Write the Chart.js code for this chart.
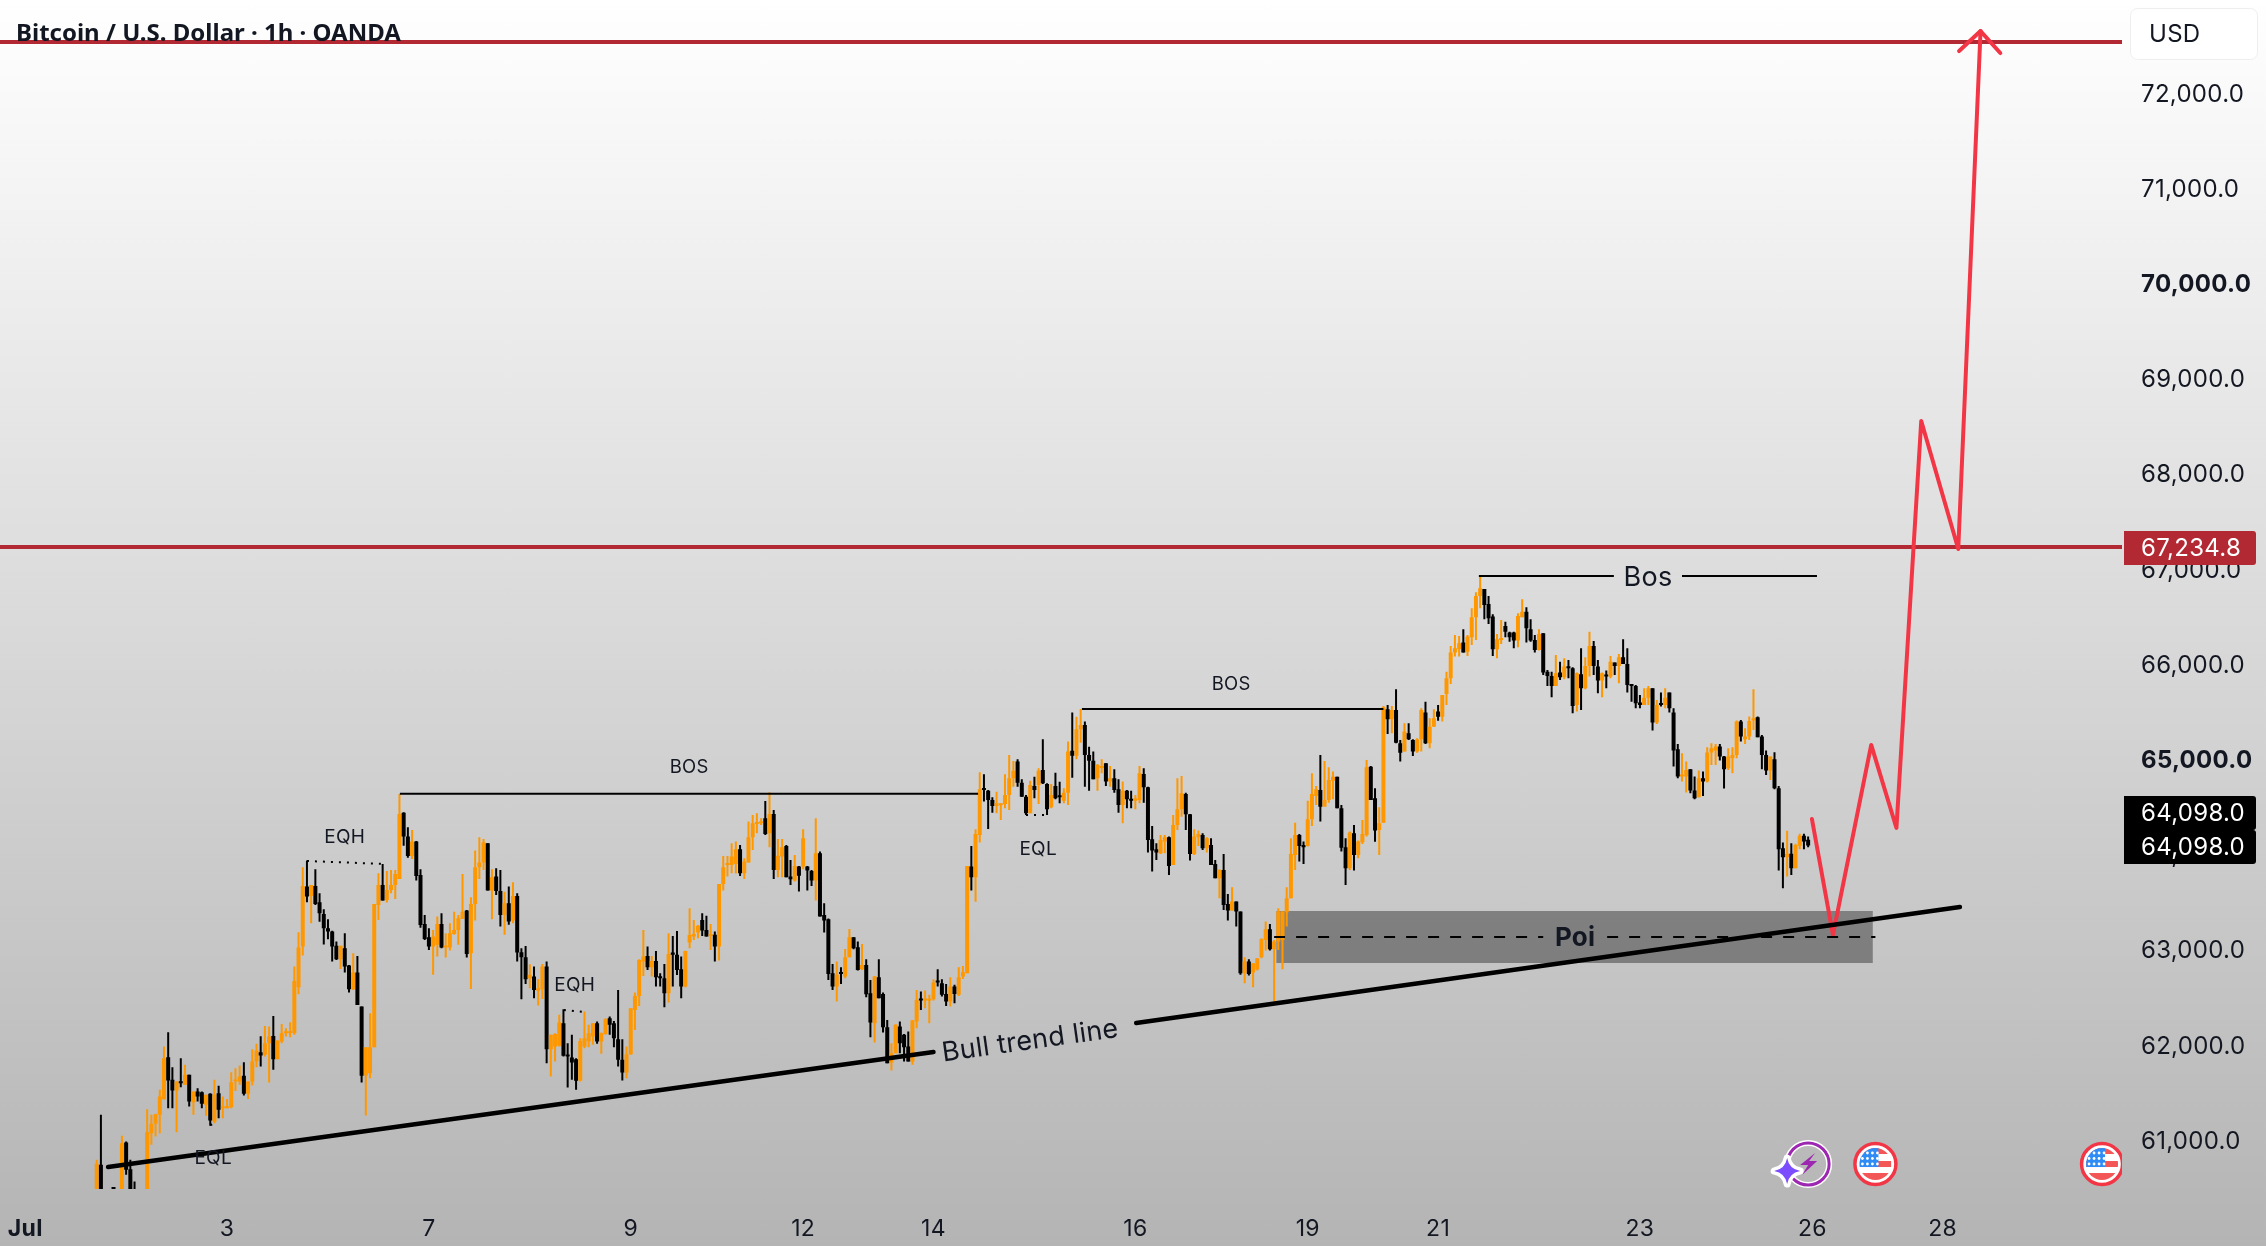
<!DOCTYPE html>
<html>
<head>
<meta charset="utf-8">
<title>BTCUSD 1h</title>
<script src="https://cdn.jsdelivr.net/npm/chart.js@4"></script>
<style>
    html, body { margin: 0; padding: 0; overflow: hidden; }
    body { width: 2266px; height: 1246px; background: linear-gradient(#ffffff, #b4b4b4); }
    canvas { display: block; }
</style>
</head>
<body>
<canvas id="price" width="2266" height="1246"></canvas>
<script>
// candles are [open, high, low, close], one array per stretch of the month
var julStart = [
    [60300,60797,60200,60755],[60745,61270,60100,60300],[60300,60450,60100,60250],[60250,60420,60100,60300],
    [60300,60450,60150,60280],[60280,60440,60150,60350],[60350,61050,60200,60970],[60979,60990,60640,60692],
    [60699,60797,60200,60300],[60400,60570,60200,60350],[60350,60450,60200,60300],[60300,60450,60200,60400],
    [60400,61329,60300,61087],[61077,61270,60955,61175],[61175,61280,61042,61277],[61270,61532,61077,61462],
    [61434,61987,61430,61865],[61875,62137,61340,61630],[61637,61770,61340,61525],[61525,61620,61087,61620],
    [61620,61865,61560,61602],[61585,61795,61585,61690],[61690,61690,61357,61410],[61402,61515,61270,61515],
    [61515,61550,61410,61462],[61507,61515,61340,61385],[61375,61480,61260,61480],[61490,61497,61154,61210],
    [61200,61637,61182,61480],[61497,61574,61235,61322],[61340,61462,61235,61357],[61340,61437,61340,61357],
    [61350,61717,61340,61612],[61620,61760,61520,61637],[61620,61787,61585,61672],[61679,61822,61472,61490],
    [61490,61620,61437,61620],[61620,61959,61577,61830],[61830,62015,61770,61945],[61927,62095,61777,61892],
    [61900,62204,61882,62022],[62022,62197,61609,62092],[62099,62309,61742,61854],[61854,62050,61854,62050],
    [62040,62225,62022,62127],[62127,62180,62092,62145],[62127,62243,62085,62145],[62130,62827,62110,62676]
];
var julFirstPush = [
    [62610,63187,62536,63027],[63037,63870,62942,63674],[63667,63940,63502,63562],[63569,63684,63282,63684],
    [63674,63849,63474,63485],[63502,63597,63299,63387],[63380,63429,63058,63230],[63230,63324,63114,63195],
    [63195,63202,62880,63037],[63047,63090,62897,62904],[62904,63047,62802,63047],[63020,63177,62764,62827],
    [62837,62844,62554,62589],[62589,62967,62582,62764],[62764,62939,62424,62424],[62407,62407,61609,61679],
    [61682,61980,61262,61980],[61707,62337,61655,61980],[61980,63485,61980,63485],[63474,63807,63317,63684],
    [63684,63905,63520,63520],[63527,63832,63499,63632],[63632,63842,63597,63684],[63684,63842,63537,63800],
    [63747,64640,63747,64430],[64444,64447,64097,64192],[64192,64290,63971,63989],[63989,64262,63957,64140],
    [64140,64147,63730,63779],[63789,63849,63236,63264],[63275,63369,63107,63117],[63135,63229,63002,63037],
    [63037,63212,62740,63142],[63055,63352,62932,63275],[63275,63387,63020,63027],[63027,63177,62922,63047],
    [63027,63282,62995,63177],[63170,63404,63160,63212],[63212,63369,63055,63334],[63327,63800,63327,63404],
    [63415,63422,62922,62960],[62967,63555,62592,63485],[63485,64045,63310,63870],[63870,64185,63747,63919],
    [63919,64167,63842,64132],[64122,64122,63625,63625],[63625,63849,63324,63765],[63772,63860,63580,63622]
];
var julSecondLeg = [
    [63622,63842,63247,63370],[63370,63614,63160,63492],[63492,63667,63265,63300],[63310,63712,63282,63569],
    [63569,63597,62880,62974],[62977,63019,62484,62925],[62925,63044,62645,62694],[62705,62851,62600,62740],
    [62722,62827,62494,62582],[62572,62694,62417,62600],[62589,62855,62487,62827],[62827,62879,61812,61959],
    [61959,62110,61672,62110],[61987,62127,61830,62120],[61994,62320,61987,62239],[62232,62379,61882,61889],
    [61900,62022,61556,61882],[61871,62110,61637,61819],[61854,61864,61532,61627],[61630,62074,61620,62046],
    [61987,62354,61970,62074],[62040,62215,61980,62127],[62092,62232,62005,62232],[62232,62250,62015,62040],
    [62040,62134,61910,62127],[62120,62284,62110,62274],[62285,62302,62110,62215],[62232,62256,61980,62074],
    [62064,62582,61777,61847],[61847,62064,61630,61714],[61714,61987,61654,61906],[61906,62390,61900,62390],
    [62372,62554,62162,62519],[62519,62904,62414,62897],[62880,63212,62729,62932],[62939,63037,62792,62820],
    [62820,62939,62722,62886],[62886,62991,62617,62715],[62722,62757,62617,62705],[62705,62855,62400,62547],
    [62547,63177,62449,62960],[62974,63149,62617,62950],[62950,63201,62739,62792],[62799,62932,62494,62617],
    [62617,62992,62610,62991],[63079,63440,63019,63159],[63142,63317,63107,63170],[63184,63264,63124,63257],
    [63317,63387,63149,63205],[63212,63362,63142,63142],[63149,63275,63002,63170],[63160,63195,62880,63037]
];
var julThirdLeg = [
    [63037,63695,62890,63695],[63695,63989,63625,63870],[63895,63989,63772,63912],[63895,64122,63807,63982],
    [63905,64140,63805,64059],[64059,64104,63779,63807],[63807,63965,63747,63930],[63919,64350,63919,64185],
    [64185,64419,64052,64332],[64325,64437,64227,64339],[64332,64384,64315,64350],[64384,64566,64210,64220],
    [64227,64657,64080,64430],[64430,64472,63747,63842],[63842,64167,63765,63992],[63982,64167,63765,64080],
    [64094,64104,63765,63765],[63772,63947,63685,63744],[63730,64000,63720,63884],[63877,63884,63615,63782],
    [63877,64269,63849,64174],[63877,63884,63625,63835],[63832,63842,63674,63730],[63730,64384,63520,64017],
    [64017,64035,63352,63352],[63370,63492,63184,63310],[63324,63331,62687,62750],[62757,62855,62582,62617],
    [62617,62880,62460,62740],[62764,62820,62645,62750],[62722,63012,62705,62925],[62925,63222,62925,63135],
    [63135,63135,63009,63019],[63030,63090,62785,62792],[62799,63065,62792,62844],[62844,62904,62505,62536],
    [62547,62687,62085,62239],[62232,62729,62029,62722],[62715,62904,62494,62494],[62540,62554,62134,62190],
    [62190,62267,61812,61812],[61819,62022,61735,61917],[61917,62222,61917,62215],[62197,62250,61917,62022],
    [62110,62120,61830,61980],[61987,62144,61830,61830],[61830,62267,61795,62260],[62250,62582,62180,62477],
    [62484,62565,62372,62470],[62470,62575,62390,62484],[62467,62530,62232,62484],[62484,62694,62470,62659],
    [62680,62799,62617,62659],[62652,62694,62512,62530],[62540,62645,62414,62460],[62460,62715,62407,62617],
    [62617,62635,62442,62540],[62530,62820,62519,62715],[62722,62834,62697,62767],[62757,63884,62757,63884],
    [63877,64094,63625,63765],[63765,64269,63509,64220]
];
var julFourthLeg = [
    [64209,64867,64129,64689],[64700,64847,64560,64682],[64675,64682,64272,64577],[64577,64605,64444,64514],
    [64514,64664,64437,64542],[64521,64542,64367,64542],[64535,64847,64490,64630],[64630,65050,64472,64805],
    [64805,64986,64717,64885],[64980,65004,64717,64759],[64759,64794,64612,64612],[64612,64630,64419,64437],
    [64437,64780,64437,64735],[64724,64822,64595,64682],[64735,64909,64535,64885],[64892,65214,64745,64752],
    [64745,64752,64419,64479],[64500,64745,64490,64630],[64724,64864,64585,64595],[64619,64769,64542,64605],
    [64570,64700,64542,64654],[64654,65190,64525,65085],[65095,65497,64811,65042],[65042,65452,65004,65319],
    [65319,65532,65179,65365],[65365,65400,64717,65050],[65050,65137,64675,64990],[64990,65085,64794,64794],
    [64805,64955,64675,64945],[64913,65004,64857,64934],[64962,64962,64724,64770],[64770,64934,64717,64805],
    [64805,64899,64654,64682],[64689,64794,64444,64525],[64525,64770,64332,64675],[64675,64682,64490,64584],
    [64584,64675,64490,64570],[64570,64630,64479,64595],[64577,64934,64542,64857],[64850,64909,64549,64710],
    [64710,64717,64024,64157],[64164,64304,63825,64045],[64059,64122,63947,64024],[64017,64209,64010,64157],
    [64140,64209,64017,64185],[64185,64192,63790,63884],[63895,64419,63895,64315],[64315,64804,64262,64479],
    [64479,64829,64402,64647],[64640,64654,64262,64427],[64427,64430,63940,64010],[64010,64269,63999,64192],
    [64185,64255,64094,64220],[64209,64227,64052,64070],[64070,64185,64024,64174],[64104,64174,63895,63895],
    [63905,63947,63755,63755],[63755,63849,63545,63842],[63842,64010,63422,63475],[63485,63590,63310,63415],
    [63415,63660,63415,63510],[63510,63510,63247,63405],[63405,63405,62740,62757],[62757,62925,62652,62880],
    [62880,62904,62733,62750],[62764,62862,62610,62862],[62799,62915,62785,62915],[62925,63125,62915,63114]
];
var julRebound = [
    [63107,63300,62995,63219],[63219,63275,62995,63009],[63009,63107,62460,63090],[63090,63440,63002,63405],
    [63107,63405,62799,63405],[63397,63660,63247,63545],[63545,64175,63545,64010],[63999,64339,63842,64209],
    [64209,64220,63930,64094],[64104,64140,63905,64080],[64094,64570,64087,64374],[64374,64857,64304,64640],
    [64619,64724,64525,64689],[64682,65050,64350,64507],[64507,64986,64514,64577],[64577,64920,64549,64787],
    [64780,64875,64584,64822],[64822,64822,64490,64490],[64490,64525,64035,64076],[64080,64175,63685,63860],
    [63860,64245,63842,64234],[64227,64315,63835,63999],[63999,64150,63965,64140],[64132,64367,64115,64220],
    [64209,64997,64192,64920],[64927,64934,64577,64577],[64595,64700,64139,64255],[64262,64500,63999,64332],
    [64339,65564,64339,65550],[65529,65575,65270,65424],[65424,65564,65277,65522],[65522,65739,65172,65179],
    [65172,65207,64980,65074],[65085,65382,65085,65295],[65277,65382,65207,65214],[65207,65214,65039,65085],
    [65085,65225,65074,65214],[65214,65540,65085,65522],[65497,65610,65165,65172],[65172,65435,65120,65347],
    [65347,65529,65347,65435],[65505,65575,65410,65452]
];
var julTop = [
    [65452,65680,65400,65680],[65691,65925,65575,65855],[65855,66195,65796,66125],[66125,66310,66083,66170],
    [66160,66300,66083,66223],[66230,66370,66125,66125],[66135,66310,66090,66293],[66286,66590,66205,66496],
    [66496,66759,66258,66720],[66720,66923,66590,66800],[66793,66793,66475,66625],[66636,66720,66426,66485],
    [66503,66527,66090,66160],[66160,66321,66065,66265],[66258,66468,66216,66275],[66405,66450,66286,66345],
    [66335,66345,66240,66286],[66335,66345,66170,66251],[66251,66538,66181,66510],[66496,66685,66496,66555],
    [66555,66601,66230,66380],[66370,66475,66240,66251],[66258,66310,66125,66153],[66153,66370,66146,66321],
    [66328,66328,65890,65915],[65925,65943,65775,65880],[65880,65925,65656,65775],[65775,66100,65775,65908],
    [65915,66030,65838,65866],[65866,66065,65845,65978],[65978,66048,65855,65960],[65960,65971,65488,65565],
    [65575,65915,65505,65908],[65897,66170,65523,65750],[65750,66076,65740,65985],[65985,66345,65873,66195],
    [66195,66247,65890,65985],[65978,66048,65698,65831],[65831,65915,65656,65908],[65890,65936,65750,65873],
    [65873,66090,65855,66030],[66020,66020,65890,65985],[65985,66111,65803,66076],[66076,66265,66006,66006]
];
var julLast = [
    [66006,66170,65705,65785],[65785,65796,65610,65775],[65775,65785,65540,65593],[65600,65680,65540,65575],
    [65575,65750,65575,65652],[65652,65775,65575,65750],[65750,65750,65306,65390],[65390,65628,65376,65575],
    [65593,65705,65558,65575],[65575,65750,65540,65652],[65705,65705,65495,65540],[65495,65540,64928,65096],
    [65110,65166,64805,64823],[64823,65068,64770,64840],[64823,64980,64655,64893],[64900,64900,64648,64676],
    [64676,64823,64585,64595],[64606,64886,64606,64805],[64805,64875,64620,64770],[64770,65131,64760,65075],
    [65075,65173,64945,65120],[65096,65166,64945,65138],[65138,65166,64991,65033],[65033,65040,64697,64900],
    [64910,65120,64893,65033],[65015,65131,64858,65050],[65050,65411,65015,65400],[65400,65418,65190,65243],
    [65215,65330,65166,65243],[65243,65453,65208,65407],[65411,65740,65313,65435],[65446,65453,65236,65236],
    [65243,65260,64900,65050],[65050,65096,64840,64886],[64886,65033,64788,65033],[65005,65078,64690,64700],
    [64700,64725,63836,64060],[64070,64130,63650,63976],[63976,64253,63773,64011],[64011,64123,63790,63860],
    [63860,64116,63860,64105],[64095,64221,64060,64200],[64200,64221,64060,64140],[64158,64193,64081,64098]
];

var dayPositions = [-17, 31, 79, 127, 168, 199, 247, 288, 319, 367, 408, 439];
var dayLabels = ['Jul', '3', '7', '9', '12', '14', '16', '19', '21', '23', '26', '28'];
var priceTicks = [61000, 62000, 63000, 64000, 65000, 66000, 67000, 68000, 69000, 70000, 71000, 72000];

var targetLevel = 72539;
var resistanceLevel = 67234.8;
var lastPrice = 64098;
var poiTop = 63411;
var poiBottom = 62865;
var poiMid = 63138;

// drawn trend line, projected path and structure lines, as {x: bar, y: price}
var trendLeft = [{x: 2.7, y: 60722}, {x: 199, y: 61929}];
var trendRight = [{x: 247.2, y: 62235}, {x: 443.1, y: 63453}];
var projection = [{x: 407.9, y: 64377}, {x: 412.9, y: 63159}, {x: 422, y: 65155}, {x: 428, y: 64283},
    {x: 433.9, y: 68558}, {x: 442.7, y: 67213}, {x: 448, y: 72654}];
var arrowHead = [{x: 442.9, y: 72444}, {x: 448, y: 72654}, {x: 452.7, y: 72423}];
var bosFirst = [{x: 72.1, y: 64643}, {x: 209.6, y: 64643}];
var bosSecond = [{x: 234.3, y: 65533}, {x: 306, y: 65533}];
var bosThirdA = [{x: 328.7, y: 66930}, {x: 360.8, y: 66930}];
var bosThirdB = [{x: 377, y: 66930}, {x: 409.1, y: 66930}];
var eqhFirst = [{x: 50, y: 63936}, {x: 68.1, y: 63905}];
var eqhSecond = [{x: 111.1, y: 62371}, {x: 116.1, y: 62350}];
var eqlFirst = [{x: 27, y: 61163}, {x: 28.6, y: 61180}];
var eqlSecond = [{x: 221, y: 64419}, {x: 226, y: 64419}];
var poiDashA = [{x: 280, y: poiMid}, {x: 344, y: poiMid}];
var poiDashB = [{x: 359.2, y: poiMid}, {x: 423, y: poiMid}];
var poiEdge = [{x: 280.5, y: poiTop}, {x: 422.4, y: poiTop}];

var candles = [].concat(julStart, julFirstPush, julSecondLeg, julThirdLeg, julFourthLeg, julRebound, julTop, julLast);

var ORANGE = '#ff9800';
var RED_LINE = '#b22833';
var RED_PATH = '#f23645';
var INK = '#131722';

function candleColor(c) {
    return c[3] >= c[0] ? ORANGE : '#000000';
}

function lineSet(data, color, width, extra) {
    return Object.assign({
        type: 'line', data: data, borderColor: color, borderWidth: width, pointRadius: 0,
        tension: 0, fill: false, borderCapStyle: 'round', borderJoinStyle: 'round', order: 2
    }, extra || {});
}

var dotted = {borderDash: [2, 6], borderCapStyle: 'butt'};
var dashed = {borderDash: [11, 11], borderCapStyle: 'butt'};
// the level lines run right up to the left edge of the canvas
var levelLine = {order: 8, borderCapStyle: 'butt', clip: {left: 8, top: 0, right: 0, bottom: 0}};

var datasets = [
    {
        type: 'bar', label: 'bodies', grouped: false, order: 5, inflateAmount: 0, minBarLength: 2,
        barPercentage: 1, categoryPercentage: 1, maxBarThickness: 4,
        data: candles.map(function (c, i) { return {x: i, y: [c[0], c[3]]}; }),
        backgroundColor: candles.map(candleColor)
    },
    {
        type: 'bar', label: 'wicks', grouped: false, order: 6, inflateAmount: 0,
        barPercentage: 1, categoryPercentage: 1, maxBarThickness: 2,
        data: candles.map(function (c, i) { return {x: i, y: [c[2], c[1]]}; }),
        backgroundColor: candles.map(candleColor)
    },
    lineSet(poiEdge, 'rgba(0,0,0,0)', 0, {fill: {value: poiBottom}, backgroundColor: 'rgba(0,0,0,0.36)', order: 9}),
    lineSet([{x: -100, y: targetLevel}, {x: 600, y: targetLevel}], RED_LINE, 4, levelLine),
    lineSet([{x: -100, y: resistanceLevel}, {x: 600, y: resistanceLevel}], RED_LINE, 4, levelLine),
    lineSet(projection, RED_PATH, 4, {order: 3}),
    lineSet(arrowHead, RED_PATH, 4, {order: 3}),
    lineSet(trendLeft, '#000000', 4.5, {order: 1}),
    lineSet(trendRight, '#000000', 4.5, {order: 1}),
    lineSet(bosFirst, '#000000', 2, {borderCapStyle: 'butt'}),
    lineSet(bosSecond, '#000000', 2, {borderCapStyle: 'butt'}),
    lineSet(bosThirdA, '#000000', 2, {borderCapStyle: 'butt'}),
    lineSet(bosThirdB, '#000000', 2, {borderCapStyle: 'butt'}),
    lineSet(eqhFirst, '#000000', 2, dotted),
    lineSet(eqhSecond, '#000000', 2, dotted),
    lineSet(eqlFirst, '#000000', 2, dotted),
    lineSet(eqlSecond, '#000000', 2, dotted),
    lineSet(poiDashA, '#000000', 2, dashed),
    lineSet(poiDashB, '#000000', 2, dashed)
];

// text notes placed in bar / price coordinates
var notes = [
    {text: 'BOS', x: 140.9, y: 64923, font: '18.5px Inter'},
    {text: 'BOS', x: 269.8, y: 65795, font: '18.5px Inter'},
    {text: 'Bos', x: 368.9, y: 66909, font: '27px Inter'},
    {text: 'EQH', x: 59, y: 64188, font: '19px Inter'},
    {text: 'EQH', x: 113.7, y: 62634, font: '19px Inter'},
    {text: 'EQL', x: 27.7, y: 60817, font: '19px Inter'},
    {text: 'EQL', x: 223.9, y: 64062, font: '19px Inter'},
    {text: 'Poi', x: 351.6, y: 63127, font: 'bold 26px Inter'},
    {text: 'Bull trend line', x: 222, y: 62045, font: '27px Inter', angle: -8}
];

function drawFlag(ctx, cx, cy) {
    ctx.save();
    ctx.beginPath();
    ctx.arc(cx, cy, 20.5, 0, Math.PI * 2);
    ctx.fillStyle = '#ffffff';
    ctx.fill();
    ctx.lineWidth = 3.5;
    ctx.strokeStyle = RED_PATH;
    ctx.stroke();
    ctx.beginPath();
    ctx.arc(cx, cy, 16, 0, Math.PI * 2);
    ctx.clip();
    ctx.fillStyle = '#f35656';
    ctx.fillRect(cx - 16, cy - 16, 32, 6);
    ctx.fillRect(cx - 16, cy - 3, 32, 6);
    ctx.fillRect(cx - 16, cy + 9, 32, 8);
    ctx.fillStyle = '#2f8cf5';
    ctx.fillRect(cx - 16, cy - 16, 19, 19);
    ctx.fillStyle = '#ffffff';
    for (var r = 0; r < 3; r++) {
        for (var c = 0; c < 4; c++) {
            ctx.beginPath();
            ctx.arc(cx - 13 + c * 5, cy - 11 + r * 5.5, 1.4, 0, Math.PI * 2);
            ctx.fill();
        }
    }
    ctx.restore();
}

function drawBolt(ctx, cx, cy) {
    ctx.save();
    ctx.beginPath();
    ctx.arc(cx, cy, 21, 0, Math.PI * 2);
    ctx.lineWidth = 6;
    ctx.strokeStyle = '#ffffff';
    ctx.stroke();
    ctx.lineWidth = 3;
    ctx.strokeStyle = '#9c27b0';
    ctx.stroke();
    ctx.fillStyle = '#9c27b0';
    ctx.beginPath();
    ctx.moveTo(cx + 7, cy - 11);
    ctx.lineTo(cx - 8, cy + 1);
    ctx.lineTo(cx, cy + 1);
    ctx.lineTo(cx - 6, cy + 11);
    ctx.lineTo(cx + 9, cy - 3);
    ctx.lineTo(cx + 1, cy - 3);
    ctx.closePath();
    ctx.fill();
    // sparkle overlapping the ring
    var sx = cx - 21, sy = cy + 7;
    ctx.beginPath();
    ctx.moveTo(sx, sy - 13);
    ctx.quadraticCurveTo(sx + 2, sy - 2, sx + 13, sy);
    ctx.quadraticCurveTo(sx + 2, sy + 2, sx, sy + 13);
    ctx.quadraticCurveTo(sx - 2, sy + 2, sx - 13, sy);
    ctx.quadraticCurveTo(sx - 2, sy - 2, sx, sy - 13);
    ctx.closePath();
    ctx.lineWidth = 7;
    ctx.lineJoin = 'round';
    ctx.strokeStyle = '#ffffff';
    ctx.stroke();
    ctx.fillStyle = '#7c4dff';
    ctx.fill();
    ctx.restore();
}

function priceTag(ctx, top, height, text, fill) {
    ctx.fillStyle = fill;
    ctx.beginPath();
    ctx.roundRect(2124, top, 132, height, [0, 3, 3, 0]);
    ctx.fill();
    ctx.fillStyle = '#ffffff';
    ctx.font = '24px Inter';
    ctx.textAlign = 'left';
    ctx.textBaseline = 'middle';
    ctx.fillText(text, 2141, top + height / 2 + 1);
}

var overlays = {
    id: 'overlays',
    beforeDraw: function (chart) {
        // axis text runs a little wider than the font's default spacing
        chart.ctx.letterSpacing = '0.3px';
    },
    afterDatasetsDraw: function (chart) {
        var ctx = chart.ctx, x = chart.scales.x, y = chart.scales.y, a = chart.chartArea;
        ctx.save();
        ctx.fillStyle = INK;
        ctx.textAlign = 'center';
        ctx.textBaseline = 'middle';
        notes.forEach(function (n) {
            ctx.save();
            ctx.translate(x.getPixelForValue(n.x), y.getPixelForValue(n.y));
            if (n.angle) ctx.rotate(n.angle * Math.PI / 180);
            ctx.font = n.font;
            ctx.fillText(n.text, 0, 0);
            ctx.restore();
        });
        ctx.restore();

        // event markers sit on the bottom of the pane
        ctx.save();
        ctx.beginPath();
        ctx.rect(a.left, a.top, a.right - a.left, a.bottom - a.top);
        ctx.clip();
        var markerY = y.getPixelForValue(60753);
        drawBolt(ctx, x.getPixelForValue(407), markerY);
        drawFlag(ctx, x.getPixelForValue(423), markerY);
        drawFlag(ctx, x.getPixelForValue(476.9), markerY);
        ctx.restore();
    },
    afterDraw: function (chart) {
        var ctx = chart.ctx, y = chart.scales.y;
        ctx.save();
        ctx.fillStyle = INK;
        ctx.font = 'bold 24px "Noto Sans"';
        ctx.letterSpacing = '0px';
        ctx.textAlign = 'left';
        ctx.textBaseline = 'alphabetic';
        ctx.fillText('Bitcoin / U.S. Dollar \u00b7 1h \u00b7 OANDA', 16, 41);
        ctx.letterSpacing = '0.3px';

        // currency button
        ctx.fillStyle = '#ffffff';
        ctx.strokeStyle = '#eeeeee';
        ctx.lineWidth = 1;
        ctx.beginPath();
        ctx.roundRect(2130.5, 8.5, 127, 51, 7);
        ctx.fill();
        ctx.stroke();
        ctx.fillStyle = INK;
        ctx.font = '24px Inter';
        ctx.textBaseline = 'middle';
        ctx.fillText('USD', 2149, 35);

        var fmt = function (v) {
            return v.toLocaleString('en-US', {minimumFractionDigits: 1, maximumFractionDigits: 1});
        };
        var h = 34;
        var lastTop = Math.round(y.getPixelForValue(lastPrice) - 16);
        priceTag(ctx, Math.round(y.getPixelForValue(resistanceLevel) - 16), h, fmt(resistanceLevel), RED_LINE);
        priceTag(ctx, lastTop - h, h, fmt(lastPrice), '#000000');
        priceTag(ctx, lastTop, h, fmt(lastPrice), '#000000');
        ctx.restore();
    }
};

var myChart = new Chart(document.getElementById('price').getContext('2d'), {
    data: {datasets: datasets},
    plugins: [overlays],
    options: {
        responsive: false,
        animation: false,
        parsing: {xAxisKey: 'x', yAxisKey: 'y'},
        layout: {padding: 0},
        plugins: {legend: {display: false}, tooltip: {enabled: false}},
        scales: {
            x: {
                type: 'linear',
                offset: false,
                min: -23,
                max: 481,
                grid: {display: false, offset: false},
                border: {display: false},
                afterBuildTicks: function (scale) {
                    scale.ticks = dayPositions.map(function (v) { return {value: v}; });
                },
                afterFit: function (scale) {
                    scale.height = 57;
                    scale.paddingLeft = 0;
                    scale.paddingRight = 0;
                },
                ticks: {
                    autoSkip: false,
                    maxRotation: 0,
                    padding: 18,
                    color: INK,
                    font: function (ctx) {
                        return {family: 'Inter', size: 23, weight: ctx.tick && ctx.tick.value === dayPositions[0] ? 'bold' : 'normal'};
                    },
                    callback: function (v) { return dayLabels[dayPositions.indexOf(v)]; }
                }
            },
            y: {
                type: 'linear',
                position: 'right',
                min: 60490,
                max: 72980,
                grid: {display: false, drawTicks: false},
                border: {display: false},
                afterBuildTicks: function (scale) {
                    scale.ticks = priceTicks.map(function (v) { return {value: v}; });
                },
                afterFit: function (scale) {
                    scale.width = 144;
                    scale.paddingTop = 0;
                    scale.paddingBottom = 0;
                },
                ticks: {
                    autoSkip: false,
                    padding: 19,
                    labelOffset: 1,
                    crossAlign: 'near',
                    color: INK,
                    font: function (ctx) {
                        return {family: 'Inter', size: 24, weight: ctx.tick && ctx.tick.value % 5000 === 0 ? 'bold' : 'normal'};
                    },
                    callback: function (v) {
                        return v.toLocaleString('en-US', {minimumFractionDigits: 1, maximumFractionDigits: 1});
                    }
                }
            }
        }
    }
});

// pin both scales to the chart area once its size is known:
// 72,000 sits at y 93.3 with 95.2px per 1,000, bar 0 at x 96.7 with 4.205px per bar
function priceAt(py) { return 72000 - (py - 93.3) / 0.0952; }
function barAt(px) { return (px - 96.7) / 4.205; }
// the area can move a little after each layout, so settle it over a few passes
for (var pass = 0; pass < 3; pass++) {
    var area = myChart.chartArea;
    myChart.options.scales.y.min = priceAt(area.bottom);
    myChart.options.scales.y.max = priceAt(area.top);
    myChart.options.scales.x.min = barAt(area.left);
    myChart.options.scales.x.max = barAt(area.right);
    myChart.update('none');
}
</script>
</body>
</html>
